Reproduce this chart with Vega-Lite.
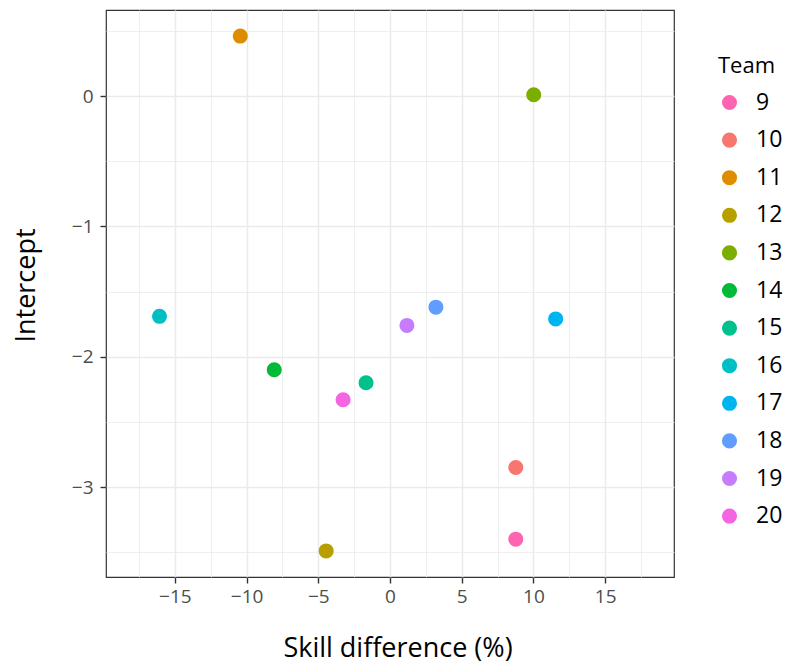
{
  "$schema": "https://vega.github.io/schema/vega-lite/v6.json",
  "width": 568,
  "height": 567,
  "autosize": "none",
  "padding": {"left": 106, "top": 10, "right": 113, "bottom": 86},
  "background": "white",
  "config": {
    "font": "Open Sans",
    "view": {"stroke": "#333333", "strokeWidth": 1.2}
  },
  "data": {
    "values": [
      {"team": "9", "skill": 8.77, "intercept": -3.40},
      {"team": "10", "skill": 8.77, "intercept": -2.85},
      {"team": "11", "skill": -10.44, "intercept": 0.46},
      {"team": "12", "skill": -4.45, "intercept": -3.49},
      {"team": "13", "skill": 10.02, "intercept": 0.01},
      {"team": "14", "skill": -8.07, "intercept": -2.10},
      {"team": "15", "skill": -1.67, "intercept": -2.20},
      {"team": "16", "skill": -16.07, "intercept": -1.69},
      {"team": "17", "skill": 11.55, "intercept": -1.71},
      {"team": "18", "skill": 3.2, "intercept": -1.62},
      {"team": "19", "skill": 1.18, "intercept": -1.76},
      {"team": "20", "skill": -3.27, "intercept": -2.33}
    ]
  },
  "mark": {"type": "circle", "size": 227, "opacity": 1},
  "encoding": {
    "x": {
      "field": "skill",
      "type": "quantitative",
      "scale": {"domain": [-19.8, 19.8], "nice": false, "zero": false},
      "axis": {
        "title": "Skill difference (%)",
        "values": [-17.5, -15, -12.5, -10, -7.5, -5, -2.5, 0, 2.5, 5, 7.5, 10, 12.5, 15, 17.5],
        "tickCount": 100,
        "tickMinStep": 0.5,
        "labelExpr": "abs(datum.value - round(datum.value / 5) * 5) < 0.01 ? format(datum.value, 'd') : ''",
        "domain": false,
        "grid": true,
        "gridColor": "#EBEBEB",
        "gridWidth": {"condition": {"test": "abs(datum.value - round(datum.value / 5) * 5) < 0.01", "value": 1.5}, "value": 0.8},
        "tickColor": "#333333",
        "tickOpacity": {"condition": {"test": "abs(datum.value - round(datum.value / 5) * 5) < 0.01", "value": 1}, "value": 0},
        "tickSize": 6,
        "tickWidth": 1.4,
        "labelColor": "#4D4D4D",
        "labelFontSize": 19,
        "labelPadding": 4,
        "labelFlush": false,
        "labelOverlap": false,
        "titleFontSize": 27,
        "titleFontWeight": "normal",
        "titleColor": "black",
        "titlePadding": 29,
        "titleX": 291.5
      }
    },
    "y": {
      "field": "intercept",
      "type": "quantitative",
      "scale": {"domain": [-3.69, 0.66], "nice": false, "zero": false},
      "axis": {
        "title": "Intercept",
        "values": [-3.5, -3, -2.5, -2, -1.5, -1, -0.5, 0, 0.5],
        "tickCount": 100,
        "tickMinStep": 0.1,
        "labelExpr": "abs(datum.value - round(datum.value)) < 0.01 ? format(datum.value, 'd') : ''",
        "domain": false,
        "grid": true,
        "gridColor": "#EBEBEB",
        "gridWidth": {"condition": {"test": "abs(datum.value - round(datum.value)) < 0.01", "value": 1.5}, "value": 0.8},
        "tickColor": "#333333",
        "tickOpacity": {"condition": {"test": "abs(datum.value - round(datum.value)) < 0.01", "value": 1}, "value": 0},
        "tickSize": 6,
        "tickWidth": 1.4,
        "labelColor": "#4D4D4D",
        "labelFontSize": 19,
        "labelPadding": 7,
        "labelFlush": false,
        "labelOverlap": false,
        "titleFontSize": 27,
        "titleFontWeight": "normal",
        "titleColor": "black",
        "titlePadding": 31,
        "titleY": 275
      }
    },
    "color": {
      "field": "team",
      "type": "nominal",
      "scale": {
        "domain": ["9", "10", "11", "12", "13", "14", "15", "16", "17", "18", "19", "20"],
        "range": ["#FF64B0", "#F8766D", "#DE8C00", "#B79F00", "#7CAE00", "#00BA38", "#00C08B", "#00BFC4", "#00B4F0", "#619CFF", "#C77CFF", "#F564E3"]
      },
      "legend": {
        "title": "Team",
        "orient": "none",
        "legendX": 612,
        "legendY": 46,
        "titleFontSize": 22,
        "titleFontWeight": "normal",
        "titleColor": "black",
        "titlePadding": 13,
        "labelFontSize": 23,
        "labelColor": "black",
        "labelOffset": 15,
        "symbolType": "circle",
        "symbolSize": 227,
        "symbolStrokeWidth": 0,
        "symbolOpacity": 1,
        "rowPadding": 13.6
      }
    }
  }
}
